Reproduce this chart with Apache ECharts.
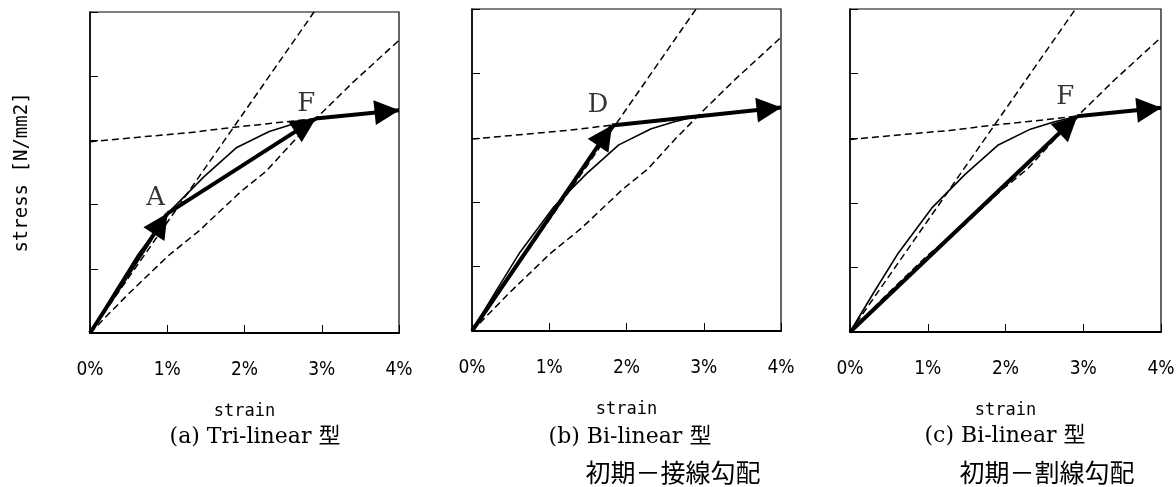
<!DOCTYPE html>
<html><head><meta charset="utf-8">
<script src="https://cdn.jsdelivr.net/npm/echarts@6/dist/echarts.min.js"></script>
<style>html,body{margin:0;padding:0;background:#fff}#c{width:1176px;height:487px}</style>
</head><body><div id="c"></div>
<script>
// ---- data (strain in %, stress in arbitrary units; tick interval = 1) ----
const xTicks = [0, 1, 2, 3, 4];
const curveStrain = [0, 0.3, 0.62, 1.06, 1.48, 1.9, 2.32, 2.62, 2.92, 3.5, 4.0];
const curveStress = [0, 0.6, 1.22, 1.93, 2.44, 2.89, 3.14, 3.25, 3.34, 3.41, 3.47];
const tangentStrain = [0, 2.9];
const tangentStress = [0, 5.0];
const secantStrain = [0, 0.49, 1.01, 1.42, 1.95, 2.28, 2.63, 2.95, 3.4, 4.0];
const secantStress = [0, 0.6, 1.2, 1.6, 2.2, 2.52, 2.98, 3.37, 3.9, 4.56];
const plateauStrain = [0, 0.72, 1.28, 1.83, 2.3, 2.92, 4.0];
const plateauStress = [2.98, 3.06, 3.12, 3.2, 3.26, 3.34, 3.47];
const pathA = [[0, 0], [1.0, 1.86], [2.92, 3.34], [4.0, 3.47]];
const pathB = [[0, 0], [1.81, 3.19], [4.0, 3.47]];
const pathC = [[0, 0], [2.92, 3.34], [4.0, 3.47]];
const labelsA = [['A', 0.85, 2.10], ['F', 2.80, 3.57]];
const labelsB = [['D', 1.63, 3.51]];
const labelsC = [['F', 2.77, 3.64]];
const panelTitles = ['(a) Tri-linear 型', '(b) Bi-linear 型', '(c) Bi-linear 型'];
const panelNotes = ['', '初期－接線勾配', '初期－割線勾配'];
const xName = 'strain';
const yName = 'stress [N/mm2]';

// ---- layout ----
const grids = [
  {left: 90, top: 12, width: 309, height: 321},
  {left: 472, top: 9, width: 309, height: 322},
  {left: 850, top: 9, width: 311, height: 323}
];
const paths = [pathA, pathB, pathC];
const labels = [labelsA, labelsB, labelsC];
const titlePos = [[255, 437], [630, 437], [1005, 436]];
const notePos = [[0, 0], [673, 472], [1047, 472]];

const zip = (a, b) => a.map((v, i) => [v, b[i]]);

const option = {
  animation: false,
  backgroundColor: '#fff',
  grid: grids.map(g => Object.assign({show: true, borderColor: '#000', borderWidth: 1.2, outerBoundsMode: 'none', containLabel: false}, g)),
  xAxis: grids.map((g, i) => ({
    type: 'value', gridIndex: i, min: xTicks[0], max: xTicks[xTicks.length - 1], interval: 1,
    axisLine: {show: true, lineStyle: {color: '#000', width: 2}},
    axisTick: {show: true, inside: true, length: 8, lineStyle: {color: '#000', width: 1}},
    splitLine: {show: false},
    axisLabel: {formatter: '{value}%', color: '#000', fontFamily: 'DejaVu Sans Condensed, DejaVu Sans', fontSize: 19, margin: 28, showMinLabel: true, showMaxLabel: true, hideOverlap: false},
    name: xName, nameLocation: 'middle', nameGap: 70,
    nameTextStyle: {color: '#000', fontFamily: 'DejaVu Sans Mono', fontSize: 17}
  })),
  yAxis: grids.map((g, i) => ({
    type: 'value', gridIndex: i, min: 0, max: 5, interval: 1,
    axisLine: {show: true, lineStyle: {color: '#000', width: 1.5}},
    axisTick: {show: true, inside: true, length: 8, lineStyle: {color: '#000', width: 1}},
    splitLine: {show: false},
    axisLabel: {show: false},
    name: i === 0 ? yName : '', nameLocation: 'middle', nameGap: 58, nameRotate: 90,
    nameTextStyle: {color: '#000', fontFamily: 'DejaVu Sans Mono', fontSize: 19}
  })),
  series: [],
  graphic: []
};

const dashed = {color: '#000', width: 1.5, type: [7, 4]};
grids.forEach((g, i) => {
  const segs = [];
  for (let k = 0; k < paths[i].length - 1; k++) {
    segs.push([{coord: paths[i][k]}, {coord: paths[i][k + 1]}]);
  }
  option.series.push(
    {type: 'line', xAxisIndex: i, yAxisIndex: i, data: zip(tangentStrain, tangentStress), symbol: 'none', lineStyle: dashed, silent: true, z: 2},
    {type: 'line', xAxisIndex: i, yAxisIndex: i, data: zip(secantStrain, secantStress), symbol: 'none', lineStyle: dashed, silent: true, z: 2},
    {type: 'line', xAxisIndex: i, yAxisIndex: i, data: zip(plateauStrain, plateauStress), symbol: 'none', lineStyle: dashed, silent: true, z: 2},
    {type: 'line', xAxisIndex: i, yAxisIndex: i, data: zip(curveStrain, curveStress), symbol: 'none',
      lineStyle: {color: '#000', width: 1.6}, silent: true, z: 3,
      markLine: {
        silent: true, symbol: ['none', 'triangle'], symbolSize: 25, symbolOffset: [[0, 0], [0, 12]],
        label: {show: false}, emphasis: {disabled: true},
        lineStyle: {color: '#000', width: 4, type: 'solid'},
        itemStyle: {color: '#000'},
        data: segs
      }},
    {type: 'scatter', xAxisIndex: i, yAxisIndex: i, symbolSize: 0, silent: true, z: 5,
      data: labels[i].map(l => ({name: l[0], value: [l[1], l[2]]})),
      label: {show: true, position: 'inside', formatter: '{b}', color: '#000', fontFamily: 'DejaVu Serif', fontSize: 26}}
  );
  option.graphic.push({type: 'text', x: titlePos[i][0], y: titlePos[i][1],
    style: {text: panelTitles[i], fill: '#000', fontSize: 22, fontFamily: 'DejaVu Serif, "Noto Sans CJK JP"', align: 'center', verticalAlign: 'middle'}});
  if (panelNotes[i]) {
    option.graphic.push({type: 'text', x: notePos[i][0], y: notePos[i][1],
      style: {text: panelNotes[i], fill: '#000', fontSize: 25, fontFamily: '"Noto Sans CJK JP"', align: 'center', verticalAlign: 'middle'}});
  }
});

const chart = echarts.init(document.getElementById('c'), null, {renderer: 'canvas'});
chart.setOption(option);
</script>
</body></html>
